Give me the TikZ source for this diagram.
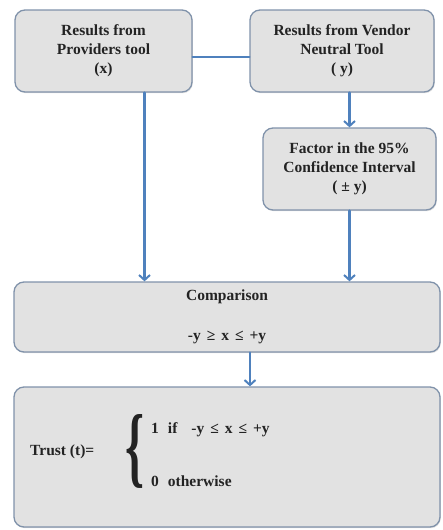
\documentclass[tikz,border=0pt]{standalone}
\usepackage{fontspec}
\setmainfont{Liberation Serif}
\usetikzlibrary{arrows.meta,shadows}
\definecolor{boxfill}{RGB}{226,226,226}
\definecolor{boxline}{RGB}{128,146,170}
\definecolor{linkblue}{RGB}{79,129,189}
\definecolor{txt}{RGB}{35,35,35}
\newcommand{\gap}{\hspace{6pt}}
\begin{document}
\begin{tikzpicture}[x=1pt, y=-1pt, line cap=round, line join=round,
    stage/.style={draw=boxline, line width=1.3pt, fill=boxfill, rounded corners=10pt,
      drop shadow={opacity=0.25, shadow xshift=0.8pt, shadow yshift=-1.2pt},
      align=center, inner sep=0pt, text=txt,
      font=\fontsize{15.5}{19}\selectfont\bfseries},
    flow/.style={draw=linkblue, line width=2.4pt, -{Straight Barb[length=5pt, width=11pt, line width=2pt]}},
    link/.style={draw=linkblue, line width=2.4pt},
    note/.style={text=txt, inner sep=0pt, font=\fontsize{15.5}{19}\selectfont\bfseries}]
  \useasboundingbox (0,0) rectangle (442,530);
  % top row
  \node[stage, minimum width=177pt, minimum height=82pt] (prov) at (103.5,51)
    {Results from\\Providers tool\\(x)};
  \node[stage, minimum width=184pt, minimum height=82pt] (vend) at (342,51)
    {Results from Vendor\\Neutral Tool\\( y)};
  % confidence interval
  \node[stage, minimum width=173pt, minimum height=82pt] (conf) at (349.5,169)
    {Factor in the 95\%\\Confidence Interval\\( ± y)};
  % comparison
  \node[stage, minimum width=426pt, minimum height=70pt] (cmp) at (227,317)
    {Comparison\\[21pt]-y\gap ≥\gap x\gap ≤\gap +y};
  % trust
  \node[stage, minimum width=426pt, minimum height=140pt] (trust) at (227,457) {};
  \node[note, anchor=west] (tlabel) at (30,452) {Trust (t)=};
  \node[note, anchor=center] (brace) at (135,451)
    {\resizebox{19pt}{62pt}{\bfseries\{}};
  \node[note, anchor=west] (case1) at (151,430)
    {1\hspace{9pt}if\hspace{14pt}-y\gap ≤\gap x\gap ≤\gap +y};
  \node[note, anchor=west] (case2) at (151,481) {0\hspace{9pt}otherwise};
  % connectors
  \draw[link] ([yshift=-6pt]prov.east) -- ([yshift=-6pt]vend.west);
  \draw[flow] (conf.north |- vend.south) -- (conf.north);
  \draw[flow] ([xshift=41pt]prov.south) -- ([xshift=41pt]prov.south |- cmp.north);
  \draw[flow] (conf.south) -- (conf.south |- cmp.north);
  \draw[flow] ([xshift=23pt]cmp.south) -- ([xshift=23pt]cmp.south |- trust.north);
\end{tikzpicture}
\end{document}
